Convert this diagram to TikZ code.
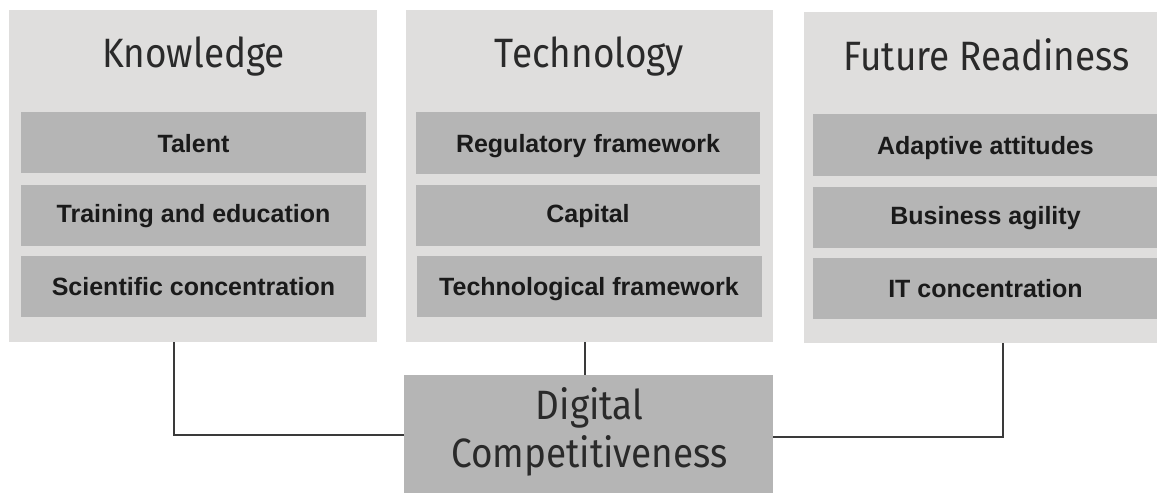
\documentclass[tikz,border=0pt]{standalone}
\usepackage{fontspec}
\setmainfont{Liberation Sans}
\newfontfamily\titlefont[FakeStretch=0.9]{Fira Sans}
\definecolor{panelgray}{HTML}{DFDEDD}
\definecolor{boxgray}{HTML}{B5B5B5}
\definecolor{linegray}{HTML}{3A3A3A}
\definecolor{titlegray}{HTML}{2A2A2A}
\definecolor{itemtext}{HTML}{1A1A1A}
\tikzset{
  panel/.style={fill=panelgray, draw=none},
  itembox/.style={fill=boxgray, draw=none},
  itemlabel/.style={anchor=base, text=itemtext, font=\fontsize{25}{28}\selectfont\bfseries, inner sep=0pt},
  titlelabel/.style={anchor=base, text=titlegray, font=\titlefont\fontsize{41}{48}\selectfont, inner sep=0pt},
  link/.style={draw=linegray, line width=1.6pt}
}
\begin{document}
\begin{tikzpicture}[x=1pt,y=-1pt]
\useasboundingbox (0,0) rectangle (1157,493);
% panels
\path[panel] (9,10) rectangle (377,342);
\path[panel] (406,10) rectangle (773,342);
\path[panel] (804,12) rectangle (1157,343);
\coordinate (kbot) at (174,342);
\coordinate (tbot) at (585,342);
\coordinate (fbot) at (1003,343);
% titles
\node[titlelabel] (tk) at (193.5,67) {Knowledge};
\node[titlelabel] (tt) at (589.5,67) {Technology};
\node[titlelabel] (tf) at (986.5,70) {Future Readiness};
% knowledge items
\path[itembox] (21,112) rectangle (366,173);
\path[itembox] (21,185) rectangle (366,246);
\path[itembox] (21,256) rectangle (366,317);
\node[itemlabel] (k1) at (193.5,152) {Talent};
\node[itemlabel] (k2) at (193.5,222) {Training and education};
\node[itemlabel] (k3) at (193.5,295) {Scientific concentration};
% technology items
\path[itembox] (416,112) rectangle (760,174);
\path[itembox] (416,185) rectangle (760,246);
\path[itembox] (417,256) rectangle (762,317);
\node[itemlabel] (t1) at (588,152) {Regulatory framework};
\node[itemlabel] (t2) at (588,222) {Capital};
\node[itemlabel] (t3) at (589,295) {Technological framework};
% future readiness items
\path[itembox] (813,114) rectangle (1157,176);
\path[itembox] (813,187) rectangle (1157,248);
\path[itembox] (813,258) rectangle (1157,319);
\node[itemlabel] (f1) at (985.5,154) {Adaptive attitudes};
\node[itemlabel] (f2) at (985.5,224) {Business agility};
\node[itemlabel] (f3) at (985.5,297) {IT concentration};
% digital competitiveness
\node[itembox, anchor=north west, minimum width=369pt, minimum height=118pt, inner sep=0pt] (dc) at (404,375) {};
\node[titlelabel] (dc1) at (589.5,419) {Digital};
\node[titlelabel] (dc2) at (589.5,467) {Competitiveness};
% connectors
\draw[link] (kbot) |- (dc.west |- 0,435);
\draw[link] (tbot) -- (dc.north -| tbot);
\draw[link] (fbot) |- (dc.east |- 0,437);
\end{tikzpicture}
\end{document}
